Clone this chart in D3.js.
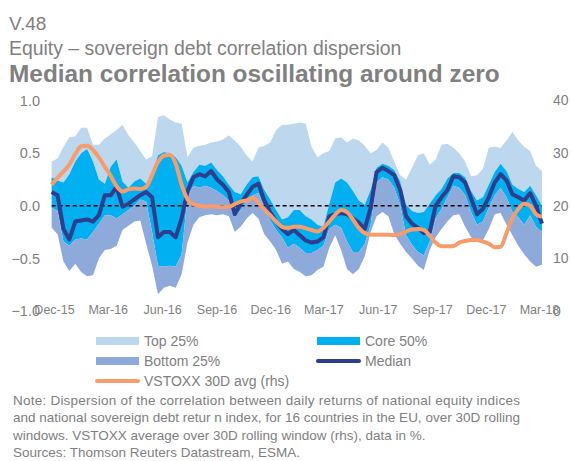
<!DOCTYPE html>
<html>
<head>
<meta charset="utf-8">
<script src="https://cdn.jsdelivr.net/npm/d3@7"></script>
<style>
  body { margin: 0; background: #fff; }
  svg { display: block; font-family: "Liberation Sans", Arial, sans-serif; }
  text { fill: #808080; }
</style>
</head>
<body>
<svg id="chart" width="571" height="461"></svg>
<script>
// sampled every 10 days from late Nov 2015
var startDate = new Date(2015, 10, 27);
var stepDays = 10;

var corrMax = [0.42,0.45,0.56,0.65,0.66,0.74,0.74,0.58,0.58,0.64, 0.68,0.72,0.77,0.67,0.60,0.52,0.44,0.47,0.84,0.86,
  0.82,0.79,0.78,0.46,0.55,0.57,0.58,0.60,0.61,0.63, 0.67,0.62,0.56,0.48,0.42,0.55,0.57,0.60,0.72,0.77,
  0.77,0.78,0.79,0.78,0.56,0.46,0.50,0.52,0.64,0.65, 0.60,0.64,0.62,0.57,0.50,0.53,0.60,0.55,0.42,0.29,
  0.25,0.36,0.48,0.50,0.39,0.44,0.58,0.59,0.55,0.50, 0.42,0.28,0.29,0.35,0.55,0.56,0.55,0.62,0.70,0.62,
  0.56,0.52,0.38,0.33];
var corrQ3 = [0.27,0.24,0.22,0.30,0.42,0.50,0.54,0.42,0.25,0.21, 0.37,0.44,0.23,0.17,0.23,0.26,0.21,0.30,0.48,0.51,
  0.50,0.46,0.38,0.22,0.32,0.39,0.38,0.41,0.34,0.28, 0.20,0.13,0.11,0.20,0.27,0.28,0.15,0.06,-0.04,-0.13,
  -0.11,-0.04,-0.04,-0.10,-0.13,-0.18,-0.20,0.02,0.22,0.26, 0.22,0.14,0.05,0.01,0.15,0.36,0.40,0.38,0.34,0.23,
  0.01,-0.05,-0.07,-0.06,0.02,0.10,0.16,0.26,0.31,0.31, 0.27,0.14,0.05,0.08,0.20,0.32,0.40,0.33,0.20,0.16,
  0.13,0.19,0.10,0.00];
var corrMedian = [0.13,0.10,-0.22,-0.32,-0.15,-0.14,-0.13,-0.15,-0.09,0.10, 0.10,0.18,-0.01,0.02,0.06,0.10,0.13,0.08,-0.30,-0.25,
  -0.25,-0.30,-0.12,0.14,0.27,0.30,0.28,0.33,0.25,0.20, 0.13,-0.08,0.02,0.10,0.18,0.21,0.05,-0.06,-0.15,-0.22,
  -0.27,-0.23,-0.28,-0.33,-0.35,-0.34,-0.30,-0.10,-0.08,-0.07, -0.08,-0.12,-0.16,-0.22,-0.02,0.32,0.36,0.33,0.29,0.15,
  -0.10,-0.17,-0.21,-0.26,-0.25,0.00,0.08,0.15,0.28,0.27, 0.22,0.07,-0.08,-0.03,0.08,0.22,0.30,0.24,0.11,0.08,
  0.05,0.12,0.00,-0.17];
var corrQ1 = [-0.02,-0.05,-0.34,-0.38,-0.32,-0.31,-0.32,-0.25,-0.17,-0.09, -0.09,-0.12,-0.08,-0.04,0.00,0.06,0.04,-0.25,-0.57,-0.58,
  -0.57,-0.58,-0.46,0.08,0.19,0.17,0.19,0.17,0.14,0.10, 0.05,-0.11,-0.04,0.04,0.10,0.12,-0.02,-0.14,-0.23,-0.30,
  -0.40,-0.36,-0.40,-0.45,-0.45,-0.42,-0.38,-0.22,-0.18,-0.21, -0.34,-0.44,-0.44,-0.36,-0.18,0.22,0.27,0.25,0.17,0.01,
  -0.28,-0.37,-0.44,-0.47,-0.34,-0.12,-0.03,0.08,0.19,0.17, 0.10,-0.06,-0.18,-0.15,-0.02,0.10,0.17,0.08,-0.06,-0.11,
  -0.18,-0.09,-0.20,-0.25];
var corrMin = [-0.21,-0.27,-0.53,-0.62,-0.55,-0.63,-0.67,-0.66,-0.50,-0.42, -0.41,-0.38,-0.23,-0.19,-0.15,-0.14,-0.36,-0.57,-0.84,-0.78,
  -0.76,-0.78,-0.65,-0.35,-0.18,-0.11,-0.09,-0.08,-0.09,-0.08, -0.10,-0.25,-0.20,-0.12,-0.07,-0.12,-0.27,-0.34,-0.42,-0.55,
  -0.53,-0.60,-0.63,-0.67,-0.66,-0.61,-0.58,-0.40,-0.28,-0.42, -0.60,-0.65,-0.60,-0.48,-0.25,-0.10,-0.06,-0.10,-0.27,-0.36,
  -0.44,-0.50,-0.57,-0.61,-0.42,-0.30,-0.22,-0.15,-0.09,-0.08, -0.20,-0.30,-0.34,-0.33,-0.22,-0.08,-0.07,-0.18,-0.28,-0.38,
  -0.46,-0.53,-0.58,-0.56];
var vstoxx = [24.0,25.3,26.5,27.8,29.8,31.3,31.4,30.6,29.2,27.4, 25.7,23.7,22.7,23.1,23.3,23.2,23.6,25.8,28.3,29.5,
  29.7,28.0,24.0,21.2,20.3,20.0,19.8,19.9,19.8,19.7, 19.8,20.3,20.8,21.0,21.5,20.6,19.3,18.2,17.0,16.0,
  15.8,16.0,16.0,15.7,15.4,15.1,15.8,17.0,18.3,19.2, 18.8,17.4,15.8,14.8,14.5,14.5,14.5,14.5,14.4,14.6,
  15.1,15.5,15.6,15.4,14.3,13.0,12.3,12.3,12.3,13.0, 13.3,13.5,13.5,13.2,12.8,12.1,12.2,14.8,17.7,19.4,
  20.4,20.0,18.4,17.9];

var leftTicks = [1.0, 0.5, 0.0, -0.5, -1.0];
var rightTicks = [40, 30, 20, 10, 0];
var quarterTicks = ['2015-12-01','2016-03-01','2016-06-01','2016-09-01','2016-12-01',
  '2017-03-01','2017-06-01','2017-09-01','2017-12-01','2018-03-01'];

var noteLines = [
  'Note: Dispersion of the correlation between daily returns of national equity indices',
  'and national sovereign debt retur n index, for 16 countries in the EU, over 30D rolling',
  'windows. VSTOXX average over 30D rolling window (rhs), data in %.',
  'Sources: Thomson Reuters Datastream, ESMA.'
];

var colors = {
  top: '#bdd7ee',
  core: '#00b0f0',
  bottom: '#8eaadb',
  median: '#2f3d8e',
  vstoxx: '#f89c6c'
};

var svg = d3.select('#chart');
var parse = d3.timeParse('%Y-%m-%d');

var rows = corrMedian.map(function (m, i) {
  return {
    date: d3.timeDay.offset(startDate, i * stepDays),
    max: corrMax[i], q3: corrQ3[i], median: m, q1: corrQ1[i], min: corrMin[i], vstoxx: vstoxx[i]
  };
});

var x = d3.scaleTime()
  .domain([parse('2015-12-01'), parse('2018-03-01')])
  .range([54, 539]);
var y = d3.scaleLinear().domain([-1, 1]).range([311, 100.5]);
var y2 = d3.scaleLinear().domain([0, 40]).range([311, 100.5]);

function band(lo, hi) {
  return d3.area()
    .x(function (d) { return x(d.date); })
    .y0(function (d) { return y(d[lo]); })
    .y1(function (d) { return y(d[hi]); });
}

var plot = svg.append('g');
plot.append('path').datum(rows).attr('d', band('q3', 'max')).attr('fill', colors.top);
plot.append('path').datum(rows).attr('d', band('q1', 'q3')).attr('fill', colors.core);
plot.append('path').datum(rows).attr('d', band('min', 'q1')).attr('fill', colors.bottom);

plot.append('line')
  .attr('x1', x(rows[0].date)).attr('x2', x(rows[rows.length - 1].date))
  .attr('y1', y(0)).attr('y2', y(0))
  .attr('stroke', '#000').attr('stroke-width', 1.5).attr('stroke-dasharray', '4,3');

plot.append('path').datum(rows)
  .attr('d', d3.line().x(function (d) { return x(d.date); }).y(function (d) { return y(d.median); }))
  .attr('fill', 'none').attr('stroke', colors.median).attr('stroke-width', 4)
  .attr('stroke-linejoin', 'round');

plot.append('path').datum(rows)
  .attr('d', d3.line().curve(d3.curveMonotoneX)
    .x(function (d) { return x(d.date); }).y(function (d) { return y2(d.vstoxx); }))
  .attr('fill', 'none').attr('stroke', colors.vstoxx).attr('stroke-width', 4)
  .attr('stroke-linejoin', 'round');

// axes: labels only, no lines
var left = svg.append('g').attr('transform', 'translate(40,0)')
  .call(d3.axisLeft(y).tickValues(leftTicks).tickFormat(d3.format('.1f')).tickSize(0).tickPadding(0));
var right = svg.append('g').attr('transform', 'translate(553,0)')
  .call(d3.axisRight(y2).tickValues(rightTicks).tickSize(0).tickPadding(0));
var bottom = svg.append('g').attr('transform', 'translate(0,305)')
  .call(d3.axisBottom(x).tickValues(quarterTicks.map(parse)).tickFormat(d3.timeFormat('%b-%y')).tickSize(0).tickPadding(0));

[left, right, bottom].forEach(function (g) {
  g.select('.domain').remove();
  g.selectAll('text').attr('fill', '#808080').style('font-family', 'Liberation Sans, Arial, sans-serif');
});
left.selectAll('text').style('font-size', '14.5px');
right.selectAll('text').style('font-size', '14px');
bottom.selectAll('text').style('font-size', '12.5px').attr('dy', '0.75em');

// titles
svg.append('text').attr('x', 9).attr('y', 30).style('font-size', '19px').text('V.48');
svg.append('text').attr('x', 9).attr('y', 55).style('font-size', '19.4px')
  .text('Equity \u2013 sovereign debt correlation dispersion');
svg.append('text').attr('x', 9).attr('y', 82).style('font-size', '24.4px').style('font-weight', 'bold')
  .text('Median correlation oscillating around zero');

// legend
var legendItems = [
  { label: 'Top 25%', color: colors.top, kind: 'rect', x: 96, y: 341 },
  { label: 'Core 50%', color: colors.core, kind: 'rect', x: 317, y: 341 },
  { label: 'Bottom 25%', color: colors.bottom, kind: 'rect', x: 96, y: 361 },
  { label: 'Median', color: colors.median, kind: 'line', x: 317, y: 361 },
  { label: 'VSTOXX 30D avg (rhs)', color: colors.vstoxx, kind: 'line', x: 96, y: 381 }
];
var legend = svg.append('g').selectAll('g').data(legendItems).enter().append('g')
  .attr('transform', function (d) { return 'translate(' + d.x + ',' + d.y + ')'; });
legend.filter(function (d) { return d.kind === 'rect'; }).append('rect')
  .attr('x', 0).attr('y', -4).attr('width', 43).attr('height', 8)
  .attr('fill', function (d) { return d.color; });
legend.filter(function (d) { return d.kind === 'line'; }).append('line')
  .attr('x1', 1).attr('x2', 42).attr('y1', 0).attr('y2', 0)
  .attr('stroke', function (d) { return d.color; }).attr('stroke-width', 4).attr('stroke-linecap', 'round');
legend.append('text').attr('x', 48).attr('y', 5).style('font-size', '14px')
  .text(function (d) { return d.label; });

// note and sources
var noteBase = [405, 422, 439.5, 457];
svg.append('g').selectAll('text').data(noteLines).enter().append('text')
  .attr('x', 13)
  .attr('y', function (d, i) { return noteBase[i]; })
  .style('font-size', '13.5px')
  .attr('textLength', function (d, i) { return i < 2 ? 507 : null; })
  .attr('lengthAdjust', 'spacing')
  .text(function (d) { return d; });
</script>
</body>
</html>
